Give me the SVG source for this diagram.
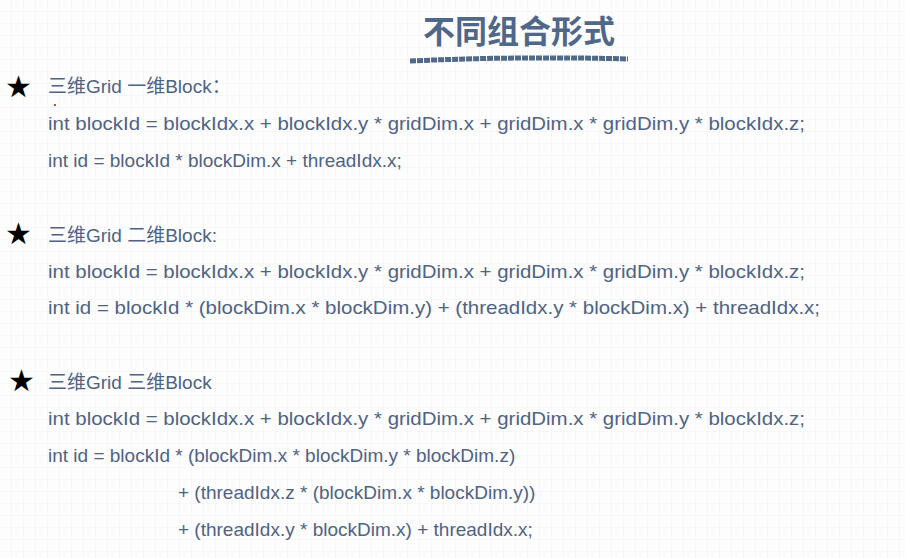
<svg xmlns="http://www.w3.org/2000/svg" width="905" height="558" viewBox="0 0 905 558">
<defs>
<pattern id="g" width="12" height="12" patternUnits="userSpaceOnUse"><path d="M12 0V12H0" fill="none" stroke="#eef0f4" stroke-width="1"/></pattern>
<style>
.t{font-family:"Liberation Sans","Noto Sans CJK SC",sans-serif;font-size:19px;fill:#4f6382}
.h{font-family:"Noto Sans CJK SC",sans-serif;font-size:32px;font-weight:bold;fill:#4f6789}
.s{font-family:"DejaVu Sans",sans-serif;font-size:30px;fill:#000}
</style>
</defs>
<rect width="905" height="558" fill="#fdfdfe"/>
<rect width="905" height="558" fill="url(#g)"/>
<g id="title">
<text class="h" x="519" y="43" text-anchor="middle">不同组合形式</text>
<path d="M410 61 Q520 56 628 59" stroke="#50688a" stroke-width="5" fill="none" stroke-dasharray="6 1"/>
</g>
<g id="sec1">
<text class="s" x="5" y="97">★</text>
<text class="t" x="48" y="93">三维Grid 一维Block：</text>
<circle cx="55" cy="105" r="1" fill="#c00"/>
<text class="t" x="48" y="130" textLength="757" lengthAdjust="spacingAndGlyphs">int blockId = blockIdx.x + blockIdx.y * gridDim.x + gridDim.x * gridDim.y * blockIdx.z;</text>
<text class="t" x="48" y="167">int id = blockId * blockDim.x + threadIdx.x;</text>
</g>
<g id="sec2">
<text class="s" x="5" y="244">★</text>
<text class="t" x="48" y="242">三维Grid 二维Block:</text>
<text class="t" x="48" y="278" textLength="757" lengthAdjust="spacingAndGlyphs">int blockId = blockIdx.x + blockIdx.y * gridDim.x + gridDim.x * gridDim.y * blockIdx.z;</text>
<text class="t" x="48" y="314" textLength="772" lengthAdjust="spacingAndGlyphs">int id = blockId * (blockDim.x * blockDim.y) + (threadIdx.y * blockDim.x) + threadIdx.x;</text>
</g>
<g id="sec3">
<text class="s" x="8" y="391">★</text>
<text class="t" x="48" y="389">三维Grid 三维Block</text>
<text class="t" x="48" y="425" textLength="757" lengthAdjust="spacingAndGlyphs">int blockId = blockIdx.x + blockIdx.y * gridDim.x + gridDim.x * gridDim.y * blockIdx.z;</text>
<text class="t" x="48" y="462">int id = blockId * (blockDim.x * blockDim.y * blockDim.z)</text>
<text class="t" x="178" y="499">+ (threadIdx.z * (blockDim.x * blockDim.y))</text>
<text class="t" x="178" y="536">+ (threadIdx.y * blockDim.x) + threadIdx.x;</text>
</g>
<g id="connectors"/>
</svg>
